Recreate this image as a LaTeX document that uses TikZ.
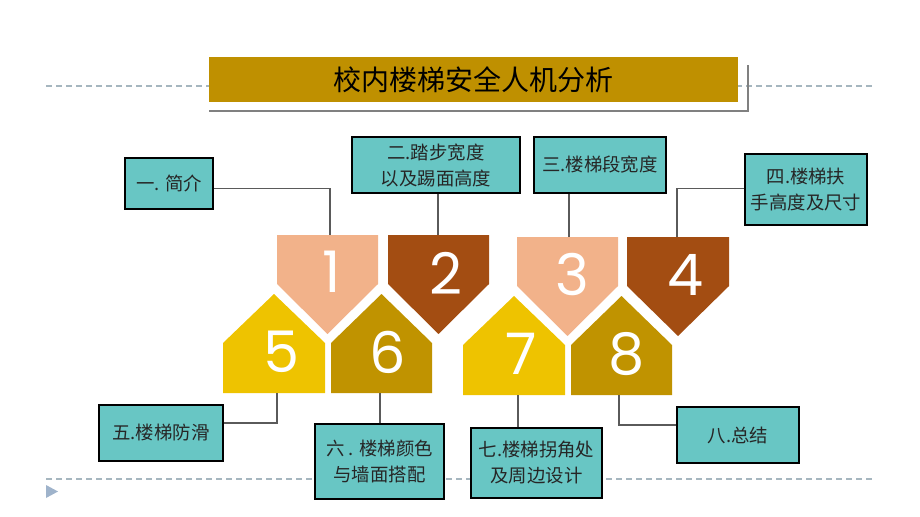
\documentclass[tikz,border=0pt]{standalone}
\usepackage{fontspec}
\newfontfamily\cjk{Noto Sans CJK SC}
\newfontfamily\numfont{Poppins}
\usetikzlibrary{calc}
\definecolor{boxteal}{HTML}{68C6C4}
\definecolor{peach}{HTML}{F2B28A}
\definecolor{brownc}{HTML}{A34D12}
\definecolor{yellowc}{HTML}{EEC300}
\definecolor{goldc}{HTML}{C09300}
\definecolor{titlegold}{HTML}{BF9000}
\definecolor{dashc}{HTML}{A6B6BF}
\definecolor{linkc}{HTML}{5A5A5A}
\definecolor{tric}{HTML}{9FB3CB}
\definecolor{textc}{HTML}{262626}
\tikzset{
  tbox/.style={draw=black, line width=0.8pt, fill=boxteal, inner sep=0pt, align=center,
    font=\cjk\fontsize{13.8}{19.5}\selectfont, text=textc},
  link/.style={draw=linkc, line width=0.8pt},
  dashline/.style={draw=dashc, line width=0.8pt, dash pattern=on 4.5pt off 3pt},
  numtext/.style={text=white, font=\numfont\fontsize{43}{43}\selectfont, inner sep=0pt}
}
\begin{document}
\begin{tikzpicture}[x=0.75pt,y=-0.75pt]
\useasboundingbox (0,0) rectangle (920,517);
% dashed guide lines and marker
\draw[dashline] (46,86) -- (874,86);
\draw[dashline] (46,479) -- (874,479);
\fill[tric] (46,485) -- (58,491.5) -- (46,498) -- cycle;
% title
\draw[gray, line width=0.8pt] (209,111) -- (748,111) -- (748,65);
\node[fill=titlegold, minimum width=529*0.75pt, minimum height=44*0.75pt, inner sep=0pt,
  font=\cjk\fontsize{21}{24}\selectfont, text=black] (title) at (473.5,79.5) {校内楼梯安全人机分析};
% pentagons
\fill[peach]   (277,235) -- (378,235) -- (378,284) -- (327.5,334) -- (277,284) -- cycle;
\fill[brownc]  (388,235) -- (489,235) -- (489,284) -- (438.5,334) -- (388,284) -- cycle;
\fill[peach]   (517,237) -- (618,237) -- (618,286) -- (567.5,336) -- (517,286) -- cycle;
\fill[brownc]  (627,237) -- (729,237) -- (729,286) -- (678,336) -- (627,286) -- cycle;
\fill[yellowc] (223,393) -- (325,393) -- (325,343) -- (274,294) -- (223,343) -- cycle;
\fill[goldc]   (331,393) -- (432,393) -- (432,343) -- (381.5,294) -- (331,343) -- cycle;
\fill[yellowc] (463,395) -- (565,395) -- (565,345) -- (514,296) -- (463,345) -- cycle;
\fill[goldc]   (571,395) -- (672,395) -- (672,345) -- (621.5,296) -- (571,345) -- cycle;
% numbers
\node[numtext] (n1) at (332,272) {1};
\node[numtext] (n2) at (446,273) {2};
\node[numtext] (n3) at (572,275) {3};
\node[numtext] (n4) at (686,275) {4};
\node[numtext] (n5) at (281,352) {5};
\node[numtext] (n6) at (388,352) {6};
\node[numtext] (n7) at (521,354) {7};
\node[numtext] (n8) at (627,354) {8};
% connection points
\coordinate (c1) at (330,235);
\coordinate (c2) at (438,235);
\coordinate (c3) at (569,237);
\coordinate (c4) at (677,237);
\coordinate (c5) at (277,393);
\coordinate (c6) at (380,393);
\coordinate (c7) at (518,395);
\coordinate (c8) at (619,395);
% boxes
\node[tbox, minimum width=88*0.75pt, minimum height=51*0.75pt] (b1) at (169,183.5) {一. 简介};
\node[tbox, minimum width=168*0.75pt, minimum height=56*0.75pt] (b2) at (436,165) {二.踏步宽度\\以及踢面高度};
\node[tbox, minimum width=132*0.75pt, minimum height=56*0.75pt] (b3) at (600,165) {三.楼梯段宽度};
\node[tbox, minimum width=122*0.75pt, minimum height=71*0.75pt] (b4) at (806,189.5) {四.楼梯扶\\手高度及尺寸};
\node[tbox, minimum width=124*0.75pt, minimum height=56*0.75pt] (b5) at (161,433) {五.楼梯防滑};
\node[tbox, minimum width=129*0.75pt, minimum height=75*0.75pt] (b6) at (379.5,461.5) {六 . 楼梯颜色\\与墙面搭配};
\node[tbox, minimum width=131*0.75pt, minimum height=70*0.75pt] (b7) at (536.5,463) {七.楼梯拐角处\\及周边设计};
\node[tbox, minimum width=122*0.75pt, minimum height=56*0.75pt] (b8) at (738,435) {八.总结};
% connectors
\draw[link] ([yshift=-3.4pt]b1.east) -| (c1);
\draw[link] (b2.south -| c2) -- (c2);
\draw[link] (b3.south -| c3) -- (c3);
\draw[link] ([yshift=1pt]b4.west) -| (c4);
\draw[link] ([yshift=7.5pt]b5.east) -| (c5);
\draw[link] (b6.north -| c6) -- (c6);
\draw[link] (b7.north -| c7) -- (c7);
\draw[link] ([yshift=7.5pt]b8.west) -| (c8);
\end{tikzpicture}
\end{document}
